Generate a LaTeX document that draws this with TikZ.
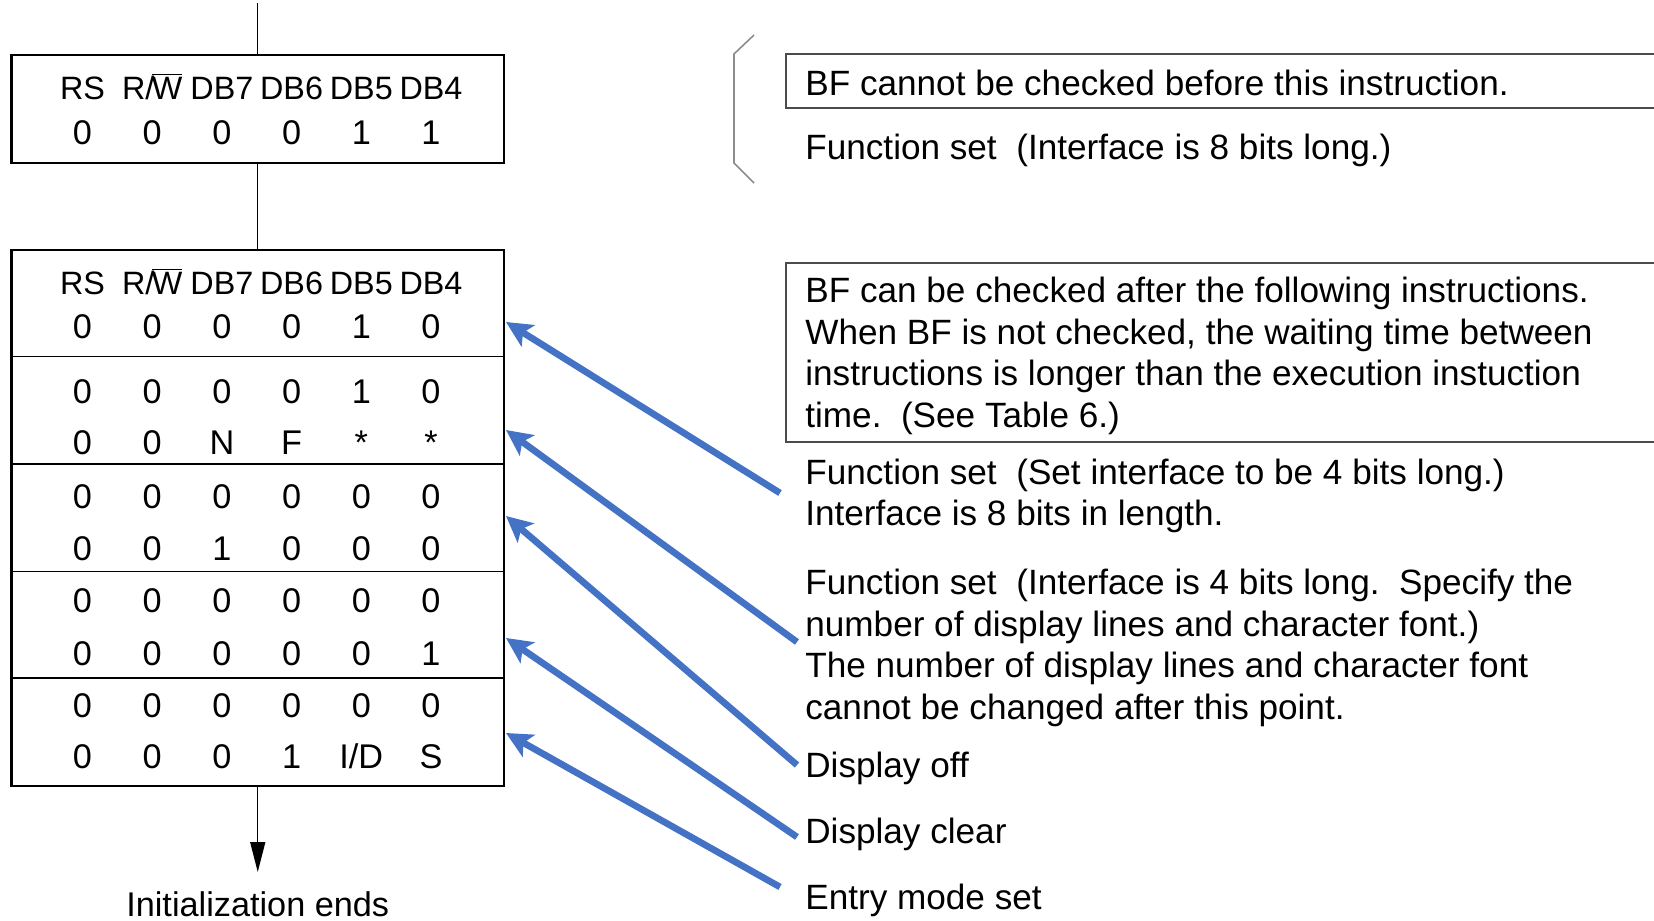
\documentclass[tikz,border=0pt]{standalone}
\usepackage{fontspec}
\setmainfont{Liberation Sans}
\usepackage{xcolor}
\usepackage{tikz}
\usetikzlibrary{arrows.meta}
\definecolor{pointblue}{HTML}{4472C4}
\tikzset {
  % one bit of an instruction word
  bit/.style={anchor=base, inner sep=0pt, font=\fontsize{19.5}{23}\selectfont},
  % column head, a little narrower
  head/.style={bit, font=\fontsize{18.4}{22}\selectfont},
  % outer box of an instruction block
  block/.style={draw, line width=1.3pt, minimum width=9.85cm},
  rowline/.style={line width=0.8pt},
  % explanations on the right
  note/.style={anchor=west, align=left, inner sep=0pt, font=\fontsize{20}{23.6}\selectfont},
  notebox/.style={draw=black!70, line width=0.8pt},
  brace/.style={draw=black!45, line width=0.9pt},
  pointer/.style={draw=pointblue, line width=3.8pt, -{Stealth[length=0.52cm, width=0.5cm, inset=0.12cm]}},
}
\frenchspacing
\begin{document}
\begin{tikzpicture}
        \useasboundingbox (0,0) rectangle (33.08,-18.42);

        % instruction blocks on the left
        \node[block, minimum height=2.16cm] (box1) at (5.155,-2.18) {};
        \node[block, minimum height=10.72cm] (box2) at (5.155,-10.36) {};

        \coordinate (start) at (5.155,-0.06);
        \coordinate (finish) at (5.155,-17.44);
        \draw [rowline] (start) -- (box1);
        \draw [rowline] (box1) -- (box2);
        \draw [rowline, -{Triangle[length=0.6cm, width=0.3cm]}] (box2) -- (finish);
        \node[bit] (ends) at (5.155,-18.32) {Initialization ends};

        \foreach \y in {-7.13,-9.28,-11.43,-13.56}
          \draw [rowline] (box2.west |- 0,\y) -- (box2.east |- 0,\y);

        % column heads
        \foreach \name [count=\c] in {RS, {R/\kern-0.08em$\overline{\hbox{W}}$}, DB7, DB6, DB5, DB4} {
          \node[head] (ha\c) at ({1.65+1.394*(\c-1)},-1.98) {\name};
          \node[head] (hb\c) at ({1.65+1.394*(\c-1)},-5.88) {\name};
        }

        % bit values
        \foreach \vals/\y [count=\r] in {{0,0,0,0,1,1}/-2.89, {0,0,0,0,1,0}/-6.77,
            {0,0,0,0,1,0}/-8.06, {0,0,N,F,*,*}/-9.08,
            {0,0,0,0,0,0}/-10.16, {0,0,1,0,0,0}/-11.20,
            {0,0,0,0,0,0}/-12.24, {0,0,0,0,0,1}/-13.30,
            {0,0,0,0,0,0}/-14.35, {0,0,0,1,I/D,S}/-15.37}
          \foreach \v [count=\c] in \vals
            \node[bit] (v\r-\c) at ({1.65+1.394*(\c-1)},\y) {\v};

        % notes on the right
        \draw [brace] (15.08,-0.70) -- (14.68,-1.08) -- (14.68,-3.26) -- (15.08,-3.66);
        \draw [notebox] (33.08,-1.08) -- (15.72,-1.08) -- (15.72,-2.16) -- (33.08,-2.16);
        \node[note] (nocheck) at (16.10,-1.66) {BF cannot be checked before this instruction.};
        \node[note] (fs8) at (16.10,-3.00) {Function set\ \ (Interface is 8 bits long.)};

        \draw [notebox] (33.08,-5.26) -- (15.72,-5.26) -- (15.72,-8.84) -- (33.08,-8.84);
        \node[note] (check) at (16.10,-7.12) {BF can be checked after the following instructions.\\
          When BF is not checked, the waiting time between\\
          instructions is longer than the execution instuction\\
          time.\ \ (See Table 6.)};

        \node[note] (fs4a) at (16.10,-9.92) {Function set\ \ (Set interface to be 4 bits long.)\\
          Interface is 8 bits in length.};
        \node[note] (fs4b) at (16.10,-12.96) {Function set\ \ (Interface is 4 bits long.\ \ Specify the\\
          number of display lines and character font.)\\
          The number of display lines and character font\\
          cannot be changed after this point.};
        \node[note] (off) at (16.10,-15.36) {Display off};
        \node[note] (clear) at (16.10,-16.69) {Display clear};
        \node[note] (entry) at (16.10,-18.01) {Entry mode set};

        % blue pointers into the block
        \coordinate (h1) at (10.12,-6.44);
        \coordinate (h2) at (10.12,-8.60);
        \coordinate (h3) at (10.12,-10.32);
        \coordinate (h4) at (10.12,-12.76);
        \coordinate (h5) at (10.12,-14.66);
        \coordinate (t1) at (15.60,-9.86);
        \coordinate (t2) at (15.94,-12.84);
        \coordinate (t3) at (15.94,-15.30);
        \coordinate (t4) at (15.94,-16.74);
        \coordinate (t5) at (15.60,-17.74);

        \draw [pointer] (t1) -- (h1);
        \draw [pointer] (t2) -- (h2);
        \draw [pointer] (t3) -- (h3);
        \draw [pointer] (t4) -- (h4);
        \draw [pointer] (t5) -- (h5);
      \end{tikzpicture}
\end{document}
